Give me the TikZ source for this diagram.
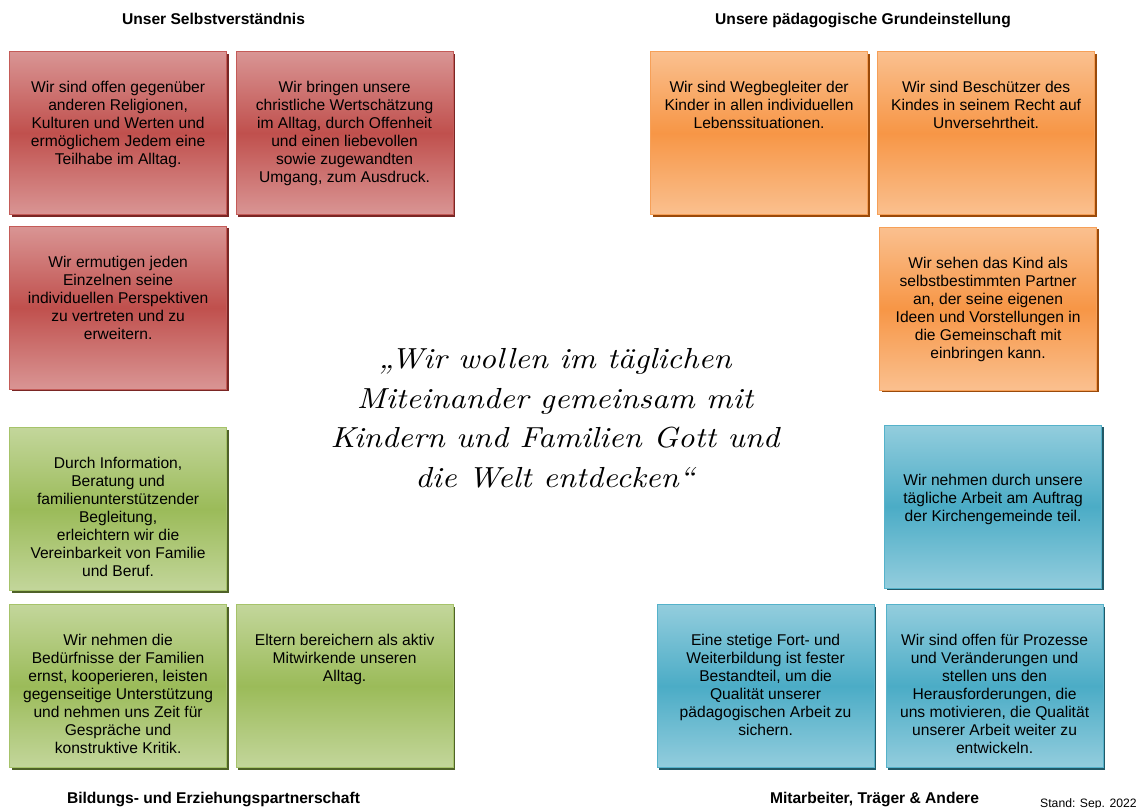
\documentclass[tikz,border=0pt]{standalone}
\usepackage{fontspec}
\setmainfont{Liberation Sans}
\newfontfamily\quotefont[FakeStretch=1.11]{lmroman10-italic.otf}
\usetikzlibrary{shadows}
\definecolor{rlight}{HTML}{D99594}
\definecolor{rmid}{HTML}{C0504D}
\definecolor{rborder}{HTML}{C45B58}
\definecolor{rshadow}{HTML}{7A2624}
\definecolor{olight}{HTML}{FAC08F}
\definecolor{omid}{HTML}{F79646}
\definecolor{oborder}{HTML}{F6A058}
\definecolor{oshadow}{HTML}{9A4A0A}
\definecolor{glight}{HTML}{C3D69B}
\definecolor{gmid}{HTML}{9BBB59}
\definecolor{gborder}{HTML}{A6C36A}
\definecolor{gshadow}{HTML}{4F6228}
\definecolor{blight}{HTML}{93CDDD}
\definecolor{bmid}{HTML}{4BACC6}
\definecolor{bborder}{HTML}{55B2CA}
\definecolor{bshadow}{HTML}{215967}
\tikzset{
  card/.style={rectangle, inner sep=0pt, anchor=north west,
    minimum width=217pt, minimum height=163pt, line width=1.2pt},
  redcard/.style={card, draw=rborder, top color=rlight, bottom color=rlight, middle color=rmid,
    drop shadow={shadow xshift=2.2pt, shadow yshift=-2.2pt, fill=rshadow, opacity=1}},
  orangecard/.style={card, draw=oborder, top color=olight, bottom color=olight, middle color=omid,
    drop shadow={shadow xshift=2.2pt, shadow yshift=-2.2pt, fill=oshadow, opacity=1}},
  greencard/.style={card, draw=gborder, top color=glight, bottom color=glight, middle color=gmid,
    drop shadow={shadow xshift=2.2pt, shadow yshift=-2.2pt, fill=gshadow, opacity=1}},
  bluecard/.style={card, draw=bborder, top color=blight, bottom color=blight, middle color=bmid,
    drop shadow={shadow xshift=2.2pt, shadow yshift=-2.2pt, fill=bshadow, opacity=1}},
  cardtext/.style={anchor=north, inner sep=0pt, align=center, text=black,
    font=\fontsize{15.6}{18}\selectfont},
  heading/.style={anchor=base, inner sep=0pt, font=\fontsize{15.6}{18}\selectfont\bfseries},
  quote/.style={align=center, inner sep=0pt, anchor=base,
    font=\quotefont\fontsize{29}{39.5}\selectfont}
}
\begin{document}
\begin{tikzpicture}[x=1pt,y=-1pt]
\useasboundingbox[fill=white] (0,0) rectangle (1136,808);

% headings
\node[heading] (h1) at (213.5,25) {Unser Selbstverständnis};
\node[heading] (h2) at (863,25) {Unsere pädagogische Grundeinstellung};
\node[heading] (h3) at (213.5,803) {Bildungs- und Erziehungspartnerschaft};
\node[heading] (h4) at (874.5,803) {Mitarbeiter, Träger \& Andere};
\node[anchor=base west, inner sep=0pt, font=\fontsize{12.2}{14}\selectfont] (stand) at (1040,807.5) {Stand: Sep. 2022};

% red
\node[redcard] (r1) at (9,51) {};
\node[cardtext] (r1t) at ([yshift=-29pt]r1.north) {\strut Wir sind offen gegenüber\\anderen Religionen,\\Kulturen und Werten und\\ermöglichem Jedem eine\\Teilhabe im Alltag.};
\node[redcard] (r2) at (235.5,51) {};
\node[cardtext] (r2t) at ([yshift=-29pt]r2.north) {\strut Wir bringen unsere\\christliche Wertschätzung\\im Alltag, durch Offenheit\\und einen liebevollen\\sowie zugewandten\\Umgang, zum Ausdruck.};
\node[redcard] (r3) at (9,225.5) {};
\node[cardtext] (r3t) at ([yshift=-29pt]r3.north) {\strut Wir ermutigen jeden\\Einzelnen seine\\individuellen Perspektiven\\zu vertreten und zu\\erweitern.};

% orange
\node[orangecard] (o1) at (650,51) {};
\node[cardtext] (o1t) at ([yshift=-29pt]o1.north) {\strut Wir sind Wegbegleiter der\\Kinder in allen individuellen\\Lebenssituationen.};
\node[orangecard] (o2) at (877,51) {};
\node[cardtext] (o2t) at ([yshift=-29pt]o2.north) {\strut Wir sind Beschützer des\\Kindes in seinem Recht auf\\Unversehrtheit.};
\node[orangecard] (o3) at (879,226.5) {};
\node[cardtext] (o3t) at ([yshift=-29pt]o3.north) {\strut Wir sehen das Kind als\\selbstbestimmten Partner\\an, der seine eigenen\\Ideen und Vorstellungen in\\die Gemeinschaft mit\\einbringen kann.};

% green
\node[greencard] (g1) at (9,427) {};
\node[cardtext] (g1t) at ([yshift=-29pt]g1.north) {\strut Durch Information,\\Beratung und\\familienunterstützender\\Begleitung,\\erleichtern wir die\\Vereinbarkeit von Familie\\und Beruf.};
\node[greencard] (g2) at (9,604) {};
\node[cardtext] (g2t) at ([yshift=-29pt]g2.north) {\strut Wir nehmen die\\Bedürfnisse der Familien\\ernst, kooperieren, leisten\\gegenseitige Unterstützung\\und nehmen uns Zeit für\\Gespräche und\\konstruktive Kritik.};
\node[greencard] (g3) at (235.5,604) {};
\node[cardtext] (g3t) at ([yshift=-29pt]g3.north) {\strut Eltern bereichern als aktiv\\Mitwirkende unseren\\Alltag.};

% blue
\node[bluecard] (b1) at (884,424.5) {};
\node[cardtext] (b1t) at ([yshift=-48pt]b1.north) {\strut Wir nehmen durch unsere\\tägliche Arbeit am Auftrag\\der Kirchengemeinde teil.};
\node[bluecard] (b2) at (656.5,604) {};
\node[cardtext] (b2t) at ([yshift=-29pt]b2.north) {\strut Eine stetige Fort- und\\Weiterbildung ist fester\\Bestandteil, um die\\Qualität unserer\\pädagogischen Arbeit zu\\sichern.};
\node[bluecard] (b3) at (885.5,604) {};
\node[cardtext] (b3t) at ([yshift=-29pt]b3.north) {\strut Wir sind offen für Prozesse\\und Veränderungen und\\stellen uns den\\Herausforderungen, die\\uns motivieren, die Qualität\\unserer Arbeit weiter zu\\entwickeln.};

% quote (base anchor = baseline of last line)
\node[quote] (q) at (555,487) {„Wir wollen im täglichen\\Miteinander gemeinsam mit\\Kindern und Familien Gott und\\die Welt entdecken“};
\end{tikzpicture}
\end{document}
